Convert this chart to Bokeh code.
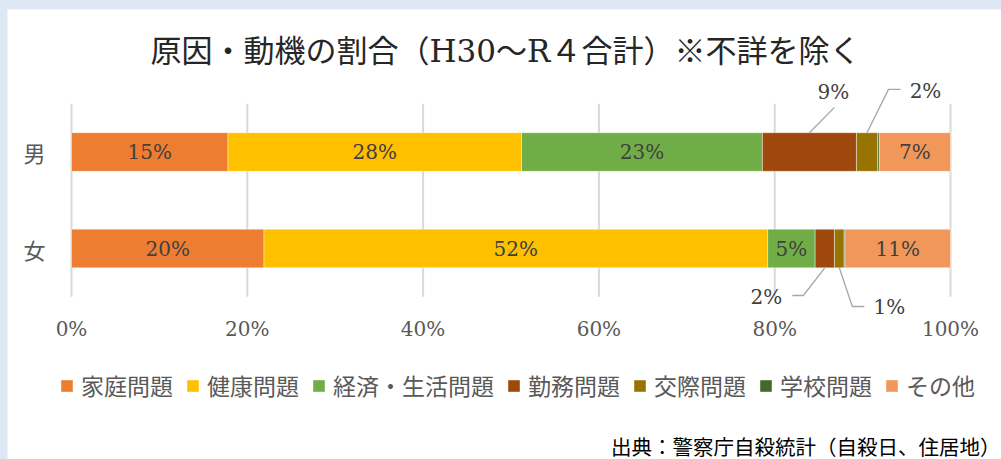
from bokeh.plotting import figure
from bokeh.models import ColumnDataSource, Range1d, Legend, LegendItem
from bokeh.core.properties import value
from bokeh.embed import file_html
from bokeh.resources import INLINE

# ---------------- data ----------------
categories = ["男", "女"]
causes = ["家庭問題", "健康問題", "経済・生活問題", "勤務問題", "交際問題", "学校問題", "その他"]
colors = ["#ED7D31", "#FFC000", "#70AD47", "#9E480E", "#997300", "#43682B", "#F1975A"]
male = [17.8, 33.4, 27.4, 10.7, 2.4, 0.2, 8.1]
female = [21.9, 57.3, 5.4, 2.2, 1.1, 0.1, 12.0]
male_labels = ["15%", "28%", "23%", "9%", "2%", "", "7%"]
female_labels = ["20%", "52%", "5%", "2%", "1%", "", "11%"]
x_ticks = [0, 20, 40, 60, 80, 100]
x_tick_labels = ["0%", "20%", "40%", "60%", "80%", "100%"]
title_text = "原因・動機の割合（H30～R４合計）※不詳を除く"
source_text = "出典：警察庁自殺統計（自殺日、住居地）"

values = {"男": male, "女": female}
labels = {"男": male_labels, "女": female_labels}

# ---------------- layout constants (page pixels) ----------------
FIG_W, FIG_H = 994, 450
ML, MT = 7, 9                 # blue page margin left / top
X0_PAGE, X100_PAGE = 71, 950  # where 0% and 100% fall
Y0_PAGE = 296.25              # bottom of category band (bottom of grid)
PX_X = 100.0 / (X100_PAGE - X0_PAGE)
UNIT_Y = 96.5                 # pixels per category band
PX_Y = 1.0 / UNIT_Y
BAR_H = 0.4


def dx(page_x):
    return (page_x - X0_PAGE) * PX_X


def dy(page_y):
    return (Y0_PAGE - page_y) * PX_Y


SERIF = "DejaVu Serif"
CJK = "Noto Sans CJK JP"
MIXED = "DejaVu Serif, Noto Sans CJK JP"

n = len(categories)
ypos = [n - i - 0.5 for i in range(n)]

p = figure(width=FIG_W, height=FIG_H,
           x_range=Range1d(dx(ML), dx(ML + FIG_W)),
           y_range=Range1d(dy(MT + FIG_H), dy(MT)),
           output_backend="svg", toolbar_location=None,
           min_border=0, margin=(MT, 0, 0, ML),
           border_fill_color="white", background_fill_color="white",
           outline_line_color=None)
p.xaxis.visible = False
p.yaxis.visible = False
p.xgrid.visible = False
p.ygrid.visible = False

# grid lines (vertical, over the category band)
p.segment(x0=x_ticks, x1=x_ticks, y0=[0] * len(x_ticks), y1=[n] * len(x_ticks),
          line_color="#d9d9d9", line_width=2)

# bars
data = {"y": ypos}
for j, c in enumerate(causes):
    data[c] = [values[cat][j] for cat in categories]
src = ColumnDataSource(data)
bars = p.hbar_stack(causes, y="y", height=BAR_H, fill_color=colors, line_color="white",
                    line_width=0.6, line_alpha=0.7, source=src)

# labels inside bars / with leader lines
outside = {
    # (category, cause): (text dx px, text dy px from bar edge, [(dx, dy) line points px])
    ("男", "勤務問題"): (24, 40.8, [(25, 25.3), (0, 0)]),
    ("男", "交際問題"): (58.5, 41.3, [(33.5, 43.3), (21.5, 43.3), (0, 0)]),
    ("女", "勤務問題"): (-58.5, -28.7, [(-32.5, -27.7), (-21.5, -27.7), (0, 0)]),
    ("女", "交際問題"): (50, -38.7, [(25, -38.7), (13, -38.7), (0, 0)]),
}
tx, ty, tt = [], [], []
ox, oy, ot = [], [], []
lxs, lys = [], []
for i, cat in enumerate(categories):
    left = 0.0
    for j, c in enumerate(causes):
        v = values[cat][j]
        cx = left + v / 2
        left += v
        lab = labels[cat][j]
        if not lab:
            continue
        key = (cat, c)
        if key in outside:
            ddx, ddy, pts = outside[key]
            edge = ypos[i] + (BAR_H / 2 if ddy > 0 else -BAR_H / 2)
            ox.append(cx + ddx * PX_X)
            oy.append(edge + ddy * PX_Y)
            ot.append(lab)
            lxs.append([cx + a * PX_X for a, b in pts])
            lys.append([edge + b * PX_Y for a, b in pts])
        else:
            tx.append(cx)
            ty.append(ypos[i])
            tt.append(lab)

p.text(x=tx, y=ty, text=tt, text_align="center", text_baseline="middle",
       text_font=value(SERIF), text_font_size="20px", text_color="#404040")
p.multi_line(xs=lxs, ys=lys, line_color="#a6a6a6", line_width=1.3)
p.text(x=ox, y=oy, text=ot, text_align="center", text_baseline="middle",
       text_font=value(SERIF), text_font_size="20px", text_color="#404040")

# x tick labels (value axis) and category labels
p.text(x=x_ticks, y=[dy(328)] * len(x_ticks), text=x_tick_labels,
       text_align="center", text_baseline="middle",
       text_font=value(SERIF), text_font_size="20px", text_color="#595959")
p.text(x=[dx(34)] * n, y=ypos, text=categories,
       text_align="center", text_baseline="middle",
       text_font=value(CJK), text_font_size="22px", text_color="#595959")

# title and source note
p.text(x=[dx(505)], y=[dy(50)], text=[title_text],
       text_align="center", text_baseline="middle",
       text_font=value(MIXED), text_font_size="31px", text_color="#262626")
p.text(x=[dx(1000)], y=[dy(445)], text=[source_text],
       text_align="right", text_baseline="middle",
       text_font=value(CJK), text_font_size="20.5px", text_color="#000000")

# legend (uses the bar renderers themselves)
items = [LegendItem(label=c, renderers=[r]) for c, r in zip(causes, bars)]
legend = Legend(items=items, orientation="horizontal", location=(59 - ML, MT + FIG_H - 402),
                glyph_width=15, glyph_height=15, label_height=30, label_standoff=7,
                spacing=12, padding=0, margin=0, border_line_color=None,
                background_fill_alpha=0, label_text_font=CJK,
                label_text_font_size="23px", label_text_color="#595959")
p.add_layout(legend)

html = file_html(p, INLINE)
html = html.replace("</head>", "<style>body{background:#dde8f4;}</style></head>", 1)
open("out.html", "w").write(html)
